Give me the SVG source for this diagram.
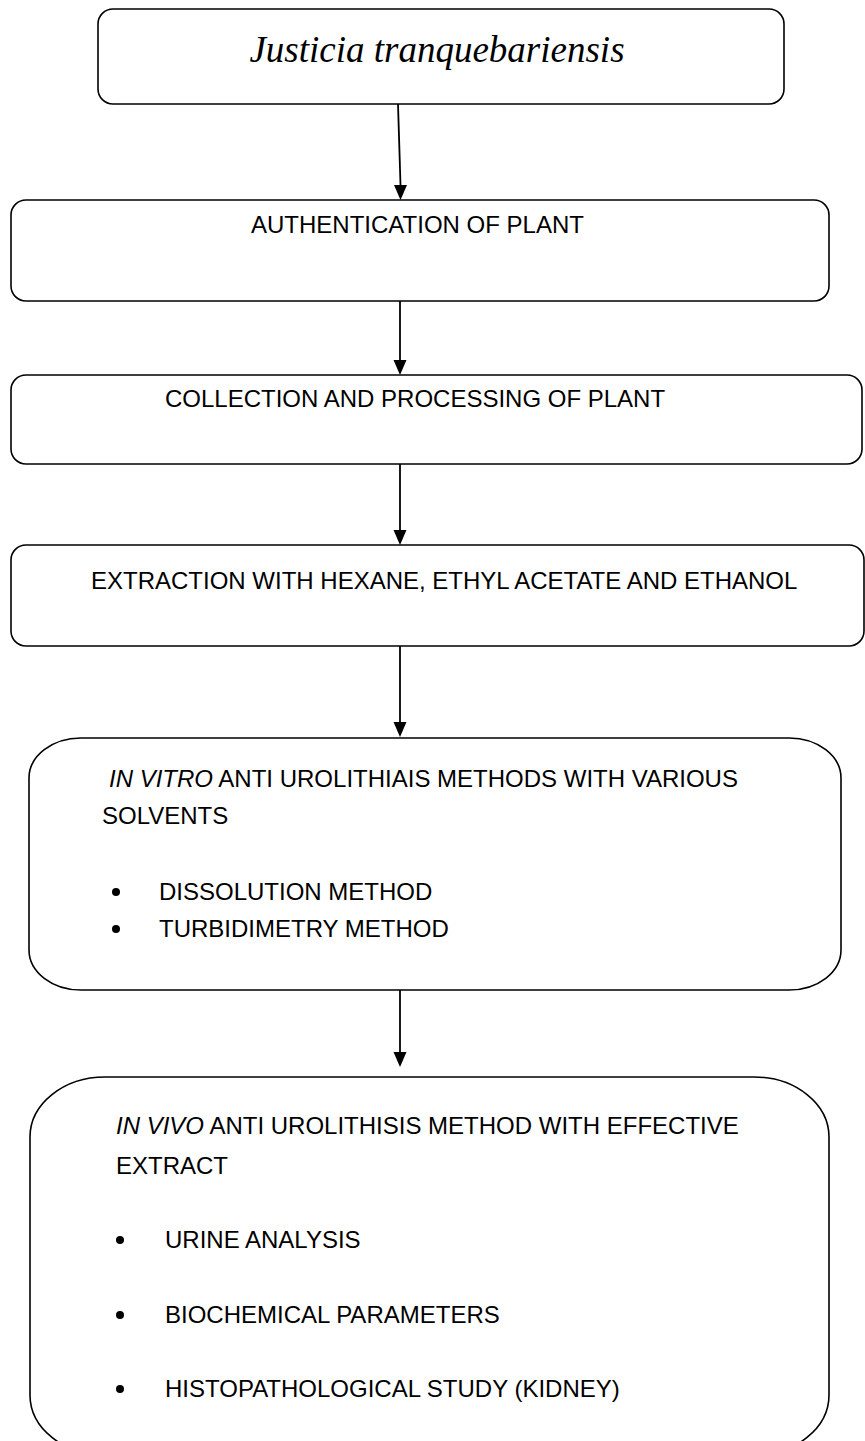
<svg xmlns="http://www.w3.org/2000/svg" width="865" height="1441" viewBox="0 0 865 1441">
<style>
.box{fill:#fff;stroke:#000;stroke-width:1.6}
.t{font-family:"Liberation Sans",Arial,sans-serif;font-size:24px;fill:#000}
.title{font-family:"Liberation Serif","Times New Roman",serif;font-style:italic;font-size:37px;fill:#000}
.it{font-style:italic}
.con{stroke:#000;stroke-width:1.8;fill:none}
.head{fill:#000}
.bul{fill:#000}
</style>
<rect width="865" height="1441" fill="#fff"/>
<g id="connectors">
<path class="con" d="M398,104 L400.5,185"/>
<path class="head" d="M394,185 L407,185 L400.5,200 Z"/>
<path class="con" d="M400,301 L400,360"/>
<path class="head" d="M393.5,360 L406.5,360 L400,375 Z"/>
<path class="con" d="M400,464 L400,530"/>
<path class="head" d="M393.5,530 L406.5,530 L400,545 Z"/>
<path class="con" d="M400,646 L400,722"/>
<path class="head" d="M393.5,722 L406.5,722 L400,737 Z"/>
<path class="con" d="M400,990 L400,1052"/>
<path class="head" d="M393.5,1052 L406.5,1052 L400,1067 Z"/>
</g>
<g id="node1">
<rect class="box" x="98" y="9" width="686" height="95" rx="15" ry="15"/>
<text class="title" x="437" y="62" text-anchor="middle">Justicia tranquebariensis</text>
</g>
<g id="node2">
<rect class="box" x="11" y="200" width="818" height="101" rx="15" ry="15"/>
<text class="t" x="251" y="233">AUTHENTICATION OF PLANT</text>
</g>
<g id="node3">
<rect class="box" x="11" y="375" width="851" height="89" rx="15" ry="15"/>
<text class="t" x="165" y="407">COLLECTION AND PROCESSING OF PLANT</text>
</g>
<g id="node4">
<rect class="box" x="11" y="545" width="853" height="101" rx="15" ry="15"/>
<text class="t" x="91" y="589">EXTRACTION WITH HEXANE, ETHYL ACETATE AND ETHANOL</text>
</g>
<g id="node5">
<rect class="box" x="29" y="738" width="812" height="252" rx="52" ry="40"/>
<text class="t" x="109" y="787"><tspan class="it">IN VITRO</tspan> ANTI UROLITHIAIS METHODS WITH VARIOUS</text>
<text class="t" x="102" y="824">SOLVENTS</text>
<circle class="bul" cx="116" cy="892" r="4"/>
<text class="t" x="159" y="900">DISSOLUTION METHOD</text>
<circle class="bul" cx="116" cy="929" r="4"/>
<text class="t" x="159" y="937">TURBIDIMETRY METHOD</text>
</g>
<g id="node6">
<rect class="box" x="30" y="1077" width="799" height="378" rx="75" ry="60"/>
<text class="t" x="116" y="1134"><tspan class="it">IN VIVO</tspan> ANTI UROLITHISIS METHOD WITH EFFECTIVE</text>
<text class="t" x="116" y="1174">EXTRACT</text>
<circle class="bul" cx="120" cy="1240" r="4"/>
<text class="t" x="165" y="1248">URINE ANALYSIS</text>
<circle class="bul" cx="120" cy="1315" r="4"/>
<text class="t" x="165" y="1323">BIOCHEMICAL PARAMETERS</text>
<circle class="bul" cx="120" cy="1389" r="4"/>
<text class="t" x="165" y="1397">HISTOPATHOLOGICAL STUDY (KIDNEY)</text>
</g>
</svg>
